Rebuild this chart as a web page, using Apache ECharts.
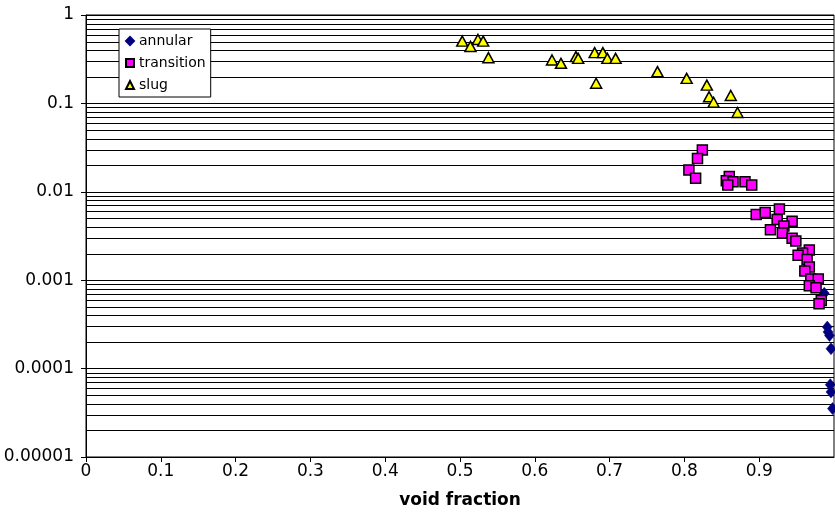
<!DOCTYPE html>
<html>
<head>
<meta charset="utf-8">
<script src="https://cdn.jsdelivr.net/npm/echarts@6/dist/echarts.min.js"></script>
<style>
  html, body { margin: 0; padding: 0; background: #fff; }
  #chart { width: 835px; height: 516px; }
</style>
</head>
<body>
<div id="chart"></div>
<script>
// Flow regime data: void fraction vs. signal-to-noise ratio
const annularX = [0.987, 0.991, 0.992, 0.994, 0.996, 0.995, 0.996, 0.998];
const annularY = [0.00071, 0.000295, 0.00026, 0.000237, 0.000168, 0.0000658, 0.0000545, 0.0000353];

const transitionX = [0.824, 0.8175, 0.806, 0.815, 0.860, 0.856, 0.865, 0.858, 0.881, 0.890,
  0.896, 0.908, 0.927, 0.924, 0.944, 0.915, 0.933, 0.931, 0.944, 0.949,
  0.967, 0.958, 0.952, 0.964, 0.967, 0.961, 0.969, 0.979, 0.967, 0.976, 0.983, 0.980];
const transitionY = [0.0298, 0.0238, 0.0176, 0.0142, 0.0149, 0.0133, 0.0130, 0.0119, 0.0130, 0.0119,
  0.00553, 0.00585, 0.00638, 0.00486, 0.00465, 0.00372, 0.0041, 0.00342, 0.00299, 0.00278,
  0.0022, 0.00203, 0.00191, 0.00172, 0.00141, 0.00127, 0.00103, 0.00103, 0.000863, 0.000819, 0.000589, 0.00054];

const slugX = [0.503, 0.514, 0.524, 0.531, 0.538, 0.623, 0.635, 0.655, 0.658, 0.680, 0.691,
  0.697, 0.708, 0.682, 0.764, 0.803, 0.830, 0.833, 0.839, 0.862, 0.871];
const slugY = [0.506, 0.441, 0.529, 0.506, 0.329, 0.310, 0.284, 0.338, 0.323, 0.375, 0.375,
  0.323, 0.323, 0.169, 0.229, 0.192, 0.161, 0.119, 0.103, 0.123, 0.0788];

const seriesNames = ['annular', 'transition', 'slug'];
const xTickLabels = ['0', '0.1', '0.2', '0.3', '0.4', '0.5', '0.6', '0.7', '0.8', '0.9'];
const yTickLabels = ['0.00001', '0.0001', '0.001', '0.01', '0.1', '1'];
const yDecades = [0.00001, 0.0001, 0.001, 0.01, 0.1];
const minorSteps = [2, 3, 4, 5, 6, 7, 8, 9];

const pairs = (xs, ys) => xs.map((x, i) => [x, ys[i]]);

// Horizontal gridlines at 2..9 within each decade of the log axis
const minorGrid = [];
yDecades.forEach(d => minorSteps.forEach(m => minorGrid.push([+(d * m).toPrecision(3)])));

const FONT = '"DejaVu Sans", sans-serif';

const chart = echarts.init(document.getElementById('chart'), null, { renderer: 'canvas' });
chart.setOption({
  animation: false,
  backgroundColor: '#fff',
  grid: {
    left: 86, right: 1, top: 15, bottom: 59,
    outerBoundsMode: 'none', containLabel: false,
    show: true, borderColor: '#000', borderWidth: 1, backgroundColor: 'transparent'
  },
  legend: {
    data: seriesNames,
    orient: 'vertical',
    left: 119, top: 29,
    backgroundColor: '#fff',
    borderColor: '#000', borderWidth: 1, borderRadius: 0,
    padding: [5, 5, 5, 6],
    itemGap: 8, itemWidth: 8, itemHeight: 8,
    textStyle: { fontFamily: FONT, fontSize: 14, color: '#000' }
  },
  xAxis: {
    type: 'value', min: 0, max: 1, interval: 0.1,
    name: 'void fraction', nameLocation: 'middle', nameGap: 35,
    nameTextStyle: { fontFamily: FONT, fontSize: 17, fontWeight: 'bold', color: '#000' },
    axisLine: { show: true, onZero: false, lineStyle: { color: '#000', width: 1 } },
    axisTick: { show: true, inside: false, length: 5, lineStyle: { color: '#000' } },
    axisLabel: {
      fontFamily: FONT, fontSize: 17, color: '#000', margin: 6, showMaxLabel: false,
      formatter: v => { const i = Math.round(v * 10); return i < xTickLabels.length ? xTickLabels[i] : ''; }
    },
    splitLine: { show: false }
  },
  yAxis: {
    type: 'log', logBase: 10, min: 0.00001, max: 1,
    name: 'SNR', nameLocation: 'middle', nameGap: 62, nameRotate: 90,
    nameTextStyle: { fontFamily: FONT, fontSize: 17, fontWeight: 'bold', color: '#000' },
    axisLine: { show: true, lineStyle: { color: '#000', width: 1 } },
    axisTick: { show: true, inside: false, length: 5, lineStyle: { color: '#000' } },
    axisLabel: {
      fontFamily: FONT, fontSize: 17, color: '#000', margin: 12,
      formatter: v => { const i = Math.round(Math.log10(v)) + 5; return yTickLabels[i] || ''; }
    },
    splitLine: { show: true, lineStyle: { color: '#000', width: 1 } }
  },
  series: [
    {
      // minor horizontal gridlines, positioned through the log axis
      type: 'custom', silent: true, z: 1,
      data: minorGrid,
      encode: { y: 0 },
      renderItem: (params, api) => {
        const y = api.coord([0, api.value(0)])[1];
        const x0 = api.coord([0, api.value(0)])[0];
        const x1 = api.coord([1, api.value(0)])[0];
        const yy = Math.round(y) + 0.5;
        return {
          type: 'line',
          shape: { x1: x0, y1: yy, x2: x1, y2: yy },
          style: { stroke: '#000', lineWidth: 1 }
        };
      }
    },
    {
      name: 'annular', type: 'scatter', data: pairs(annularX, annularY), z: 3,
      symbol: 'diamond', symbolSize: [10, 12],
      itemStyle: { color: '#000080', borderColor: '#000080', borderWidth: 0.5, opacity: 1 }
    },
    {
      name: 'transition', type: 'scatter', data: pairs(transitionX, transitionY), z: 3,
      symbol: 'rect', symbolSize: 10,
      itemStyle: { color: '#FF00FF', borderColor: '#000', borderWidth: 1.5, opacity: 1 }
    },
    {
      name: 'slug', type: 'scatter', data: pairs(slugX, slugY), z: 3,
      symbol: 'triangle', symbolSize: [11, 10],
      itemStyle: { color: '#FFFF00', borderColor: '#000', borderWidth: 1.5, opacity: 1 }
    }
  ]
});
</script>
</body>
</html>
